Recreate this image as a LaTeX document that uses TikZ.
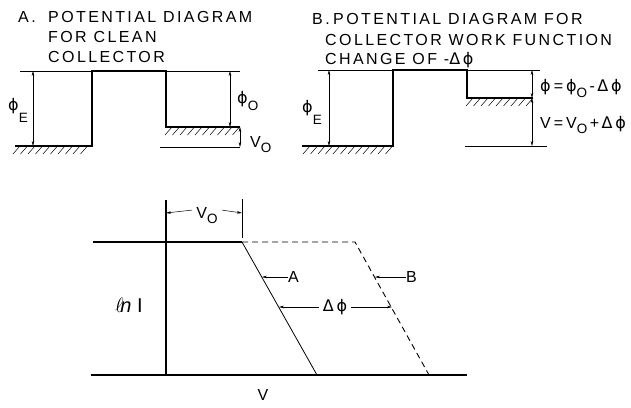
\documentclass[tikz,border=0pt]{standalone}
\usepackage{fontspec}
\setmainfont{Liberation Sans}[LetterSpace=15]
\newfontfamily\phfont{DejaVu Sans}
\usetikzlibrary{arrows.meta}
\newcommand{\lab}{\fontsize{16}{19}\selectfont}
\newcommand{\ph}{{\phfont ϕ}}
\newcommand{\dph}{{\phfont Δ\,ϕ}}
\newcommand{\lo}[2][7pt]{\raisebox{-#1}{\fontsize{13.5}{13.5}\selectfont #2}}
\newcommand{\eq}{\kern3pt=\kern3pt}

\begin{document}
\begin{tikzpicture}[
    x=1pt, y=-1pt,
    wall/.style={line width=1.1pt},
    guide/.style={line width=0.5pt},
    hatchline/.style={line width=0.5pt},
    dim/.style={line width=0.5pt, {Stealth[length=5pt,width=2.6pt]}-{Stealth[length=5pt,width=2.6pt]}},
    ptr/.style={line width=0.5pt, -{Stealth[length=5pt,width=2.6pt]}},
    lbl/.style={inner sep=0pt, font=\lab, anchor=base west}
]
\useasboundingbox (0,0) rectangle (631,407);

% A: clean collector
\node[lbl] (tA0) at (18,22) {A.};
\node[lbl] (tA1) at (48,22) {POTENTIAL DIAGRAM};
\node[lbl] (tA2) at (48,42) {FOR CLEAN};
\node[lbl] (tA3) at (48,62) {COLLECTOR};

\coordinate (aE) at (15,146);
\coordinate (aB1) at (92,146);
\coordinate (aB2) at (92,71);
\coordinate (aB3) at (166,71);
\coordinate (aB4) at (166,127);
\coordinate (aC) at (240,127);
\draw[wall] (aE) -- (aB1) -- (aB2) -- (aB3) -- (aB4) -- (aC);
\draw[guide] (20,71) -- (aB2);
\draw[guide] (aB3) -- (240,71);
\draw[guide] (160,147) -- (240,147);
\foreach \x in {20,27.5,...,92} \draw[hatchline] (\x,146) -- ++(-7,8);
\foreach \x in {172,179.5,...,240} \draw[hatchline] (\x,127) -- ++(-7,8);

\coordinate (aD1) at (33,71);
\coordinate (aD2) at (33,146);
\draw[dim] (aD1) -- (aD2);
\coordinate (aD3) at (230,71);
\coordinate (aD4) at (230,127);
\draw[dim] (aD3) -- (aD4);
\coordinate (aD5) at (240,127);
\coordinate (aD6) at (240,147);
\draw[dim] (aD5) -- (aD6);

\node[lbl] (aphE) at (8,110) {\ph\lo[12pt]{E}};
\node[lbl] (aph0) at (237,103) {\ph\lo{O}};
\node[lbl] (aV0) at (250,147) {V\lo[5pt]{O}};

% B: changed work function
\node[lbl] (tB0) at (312,24) {B.};
\node[lbl] (tB1) at (333,24) {POTENTIAL DIAGRAM FOR};
\node[lbl] (tB2) at (325,45) {COLLECTOR WORK FUNCTION};
\node[lbl] (tB3) at (325,64) {CHANGE OF -\dph};

\coordinate (bE) at (302,146);
\coordinate (bB1) at (393,146);
\coordinate (bB2) at (393,70);
\coordinate (bB3) at (467,70);
\coordinate (bB4) at (467,98);
\coordinate (bC) at (533,98);
\draw[wall] (bE) -- (bB1) -- (bB2) -- (bB3) -- (bB4) -- (bC);
\draw[guide] (318,70) -- (bB2);
\draw[guide] (bB3) -- (540,70);
\draw[guide] (465,146) -- (547,146);
\foreach \x in {310,317.5,...,393} \draw[hatchline] (\x,146) -- ++(-7,8);
\foreach \x in {473,480.5,...,533} \draw[hatchline] (\x,98) -- ++(-7,8);

\coordinate (bD1) at (329,70);
\coordinate (bD2) at (329,146);
\draw[dim] (bD1) -- (bD2);
\coordinate (bD3) at (532,70);
\coordinate (bD4) at (532,98);
\coordinate (bD5) at (532,146);
\draw[dim] (bD3) -- (bD4);
\draw[dim] (bD4) -- (bD5);

\node[lbl] (bphE) at (302,112) {\ph\lo[12pt]{E}};
\node[lbl, font=\lab\addfontfeature{LetterSpace=0}] (bph) at (540,91) {\ph\eq\ph\lo[6pt]{O}\kern2.5pt-\kern2.5pt\dph};
\node[lbl, font=\lab\addfontfeature{LetterSpace=0}] (bV) at (540,128) {V\eq V\lo[5pt]{O}\kern2.5pt+\kern2.5pt\dph};

% ln I versus V
\coordinate (gO) at (166,375);
\coordinate (gT) at (166,200);
\coordinate (gL) at (91,375);
\coordinate (gR) at (467,375);
\coordinate (gS) at (93,242);
\coordinate (kA) at (242,242);
\coordinate (fA) at (317,375);
\coordinate (kB) at (355,242);
\coordinate (fB) at (429,375);
\draw[wall] (gL) -- (gR);
\draw[wall] (gO) -- (gT);
\draw[wall] (gS) -- (kA);
\draw[line width=0.8pt] (kA) -- (fA);
\draw[line width=0.9pt, dash pattern=on 6pt off 4pt] (kA) -- (kB) -- (fB);

\coordinate (vT) at (242,199);
\draw[guide] (vT) -- (242,238);
\node[lbl, anchor=base] (gV0) at (207,218) {V\lo[5pt]{O}};
\draw[ptr] (gV0.west) ++(-4,-5) coordinate (v0a) -- (166,213);
\draw[ptr] (gV0.east) ++(4,-5) coordinate (v0b) -- (242,213);

\node[lbl, anchor=west] (gA) at (288,277) {A};
\draw[ptr] (gA.west) -- (262,277);
\node[lbl, anchor=west] (gB) at (406,277) {B};
\draw[ptr] (gB.west) -- (375,277);
\node[lbl, anchor=center] (gD) at (335,307) {\dph};
\draw[ptr] (gD.west) ++(-4,0) coordinate (dL) -- (279,307);
\draw[ptr] (gD.east) ++(4,0) coordinate (dR) -- (392,307);

\node[anchor=center, inner sep=0pt] (gY) at (129,305) {\fontsize{20}{20}\selectfont$\ell\!\mathit{n}\;\mathrm{I}$};
\node[lbl, anchor=base] (gX) at (263,400) {V};
\end{tikzpicture}
\end{document}
